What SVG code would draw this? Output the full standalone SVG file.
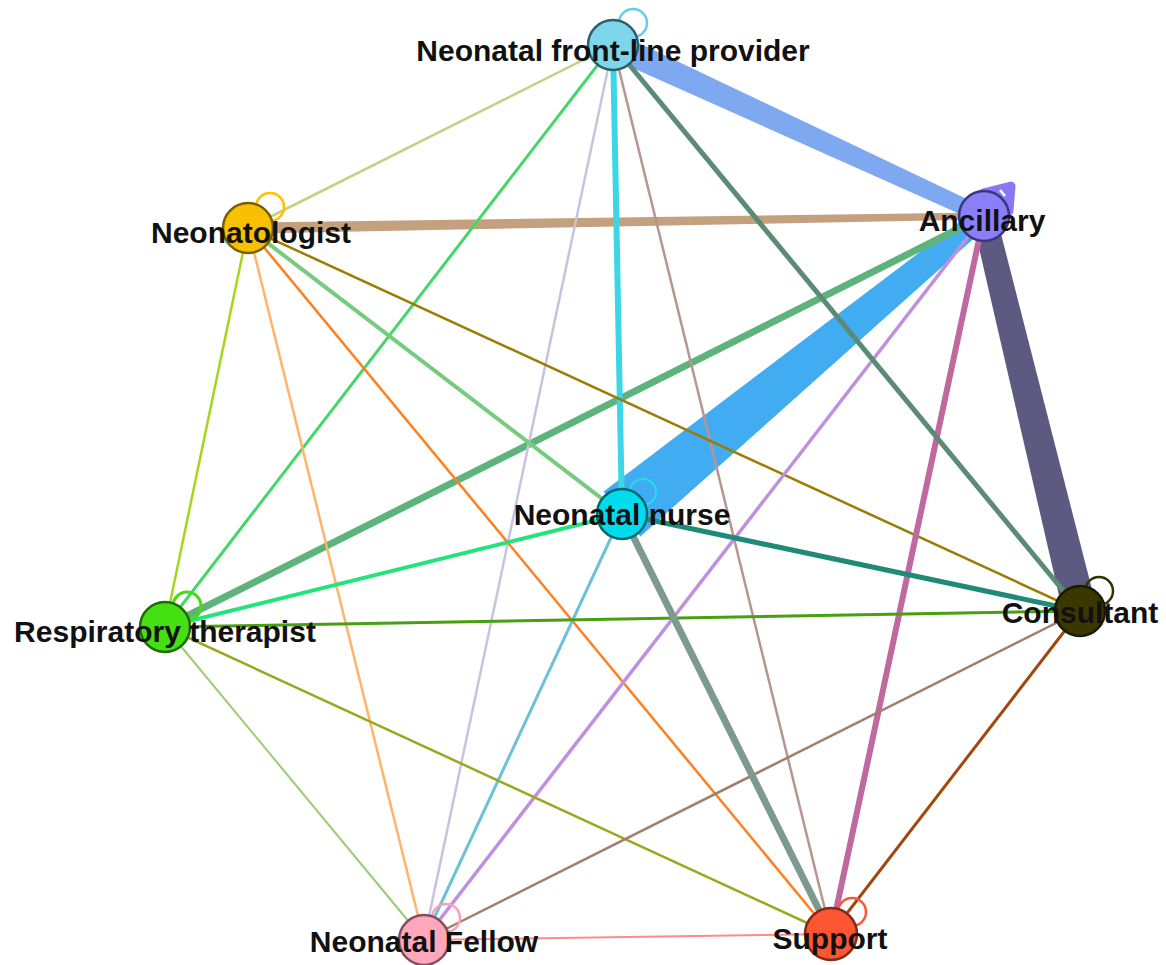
<svg xmlns="http://www.w3.org/2000/svg" width="1166" height="965" viewBox="0 0 1166 965">
<style>
.lbl{font-family:"Liberation Sans",Arial,sans-serif;font-weight:bold;font-size:30px;fill:#111;text-anchor:middle}
.e{fill:none;stroke-linecap:butt}
.loop{fill:none}
.node circle{stroke-width:2.5}
</style>
<rect width="1166" height="965" fill="#ffffff"/>
<g id="connectors">
<polygon points="248,222.5 984,212.5 984,219.5 248,233.5" fill="#c4a07e"/>
<polygon points="618.4,33.2 987.35,208.74 980.65,223.26 607.6,56.8" fill="#7ea8f0"/>
<polygon points="603.6,491.6 977.6,208.3 990.4,223.7 640.4,536.4" fill="#42acf2"/>
<polygon points="995.7,213.2 1096.5,607 1063.5,615 972.3,218.8" fill="#5c5a80"/>
<line class="e" x1="984" y1="216" x2="165" y2="627" stroke="#5eb37c" stroke-width="7"/>
<line class="e" x1="613" y1="45" x2="248" y2="228" stroke="#c4cf84" stroke-width="2.5"/>
<line class="e" x1="613" y1="45" x2="165" y2="627" stroke="#44d768" stroke-width="3"/>
<line class="e" x1="613" y1="45" x2="424" y2="940" stroke="#c6c3dd" stroke-width="2.5"/>
<line class="e" x1="613" y1="45" x2="622" y2="514" stroke="#3cd6e6" stroke-width="6"/>
<line class="e" x1="613" y1="45" x2="831" y2="934" stroke="#b8958f" stroke-width="2.5"/>
<line class="e" x1="248" y1="228" x2="165" y2="627" stroke="#a6d61c" stroke-width="2.5"/>
<line class="e" x1="248" y1="228" x2="424" y2="940" stroke="#ffb469" stroke-width="2.5"/>
<line class="e" x1="248" y1="228" x2="831" y2="934" stroke="#ff7f1e" stroke-width="2.5"/>
<line class="e" x1="248" y1="228" x2="622" y2="514" stroke="#74cc7c" stroke-width="4"/>
<line class="e" x1="248" y1="228" x2="1080" y2="611" stroke="#9a7c00" stroke-width="2.5"/>
<line class="e" x1="984" y1="216" x2="424" y2="940" stroke="#c08fe0" stroke-width="3.5"/>
<line class="e" x1="984" y1="216" x2="831" y2="934" stroke="#c068a0" stroke-width="6"/>
<line class="e" x1="613" y1="45" x2="1080" y2="611" stroke="#5b8b74" stroke-width="5"/>
<line class="e" x1="622" y1="514" x2="165" y2="627" stroke="#22e47a" stroke-width="4"/>
<line class="e" x1="622" y1="514" x2="1080" y2="611" stroke="#1f8a78" stroke-width="5"/>
<line class="e" x1="622" y1="514" x2="424" y2="940" stroke="#6bc2d8" stroke-width="3"/>
<line class="e" x1="165" y1="627" x2="1080" y2="611" stroke="#48a010" stroke-width="3"/>
<line class="e" x1="165" y1="627" x2="424" y2="940" stroke="#9ccb72" stroke-width="2"/>
<line class="e" x1="165" y1="627" x2="831" y2="934" stroke="#9ea61e" stroke-width="2.5"/>
<line class="e" x1="1080" y1="611" x2="424" y2="940" stroke="#a07f70" stroke-width="2.5"/>
<line class="e" x1="1080" y1="611" x2="831" y2="934" stroke="#a0480e" stroke-width="3"/>
<line class="e" x1="622" y1="514" x2="831" y2="934" stroke="#7c9a90" stroke-width="7"/>
<line class="e" x1="424" y1="940" x2="831" y2="934" stroke="#ff8a8a" stroke-width="2"/>
<circle class="loop" cx="633" cy="23" r="14" stroke="#66ccee" stroke-width="2.5"/>
<path d="M983,193 L1011,186 L1009,211 Z" fill="#8878f8" stroke="#8878f8" stroke-width="9" stroke-linejoin="round"/>
<line x1="1000" y1="190" x2="1005" y2="196" stroke="#ffffff" stroke-width="2.5"/>
<circle class="loop" cx="270" cy="207" r="14" stroke="#ffc000" stroke-width="2.5"/>
<circle class="loop" cx="643" cy="492" r="13" stroke="#22ddee" stroke-width="2"/>
<circle class="loop" cx="187" cy="606" r="14" stroke="#44dd11" stroke-width="3"/>
<circle class="loop" cx="1099" cy="591" r="14" stroke="#333300" stroke-width="2.5"/>
<circle class="loop" cx="446" cy="918" r="14" stroke="#ffa0b8" stroke-width="2.5"/>
<circle class="loop" cx="852" cy="912" r="14" stroke="#ff5533" stroke-width="2.5"/>
</g>
<g id="node-frontline" class="node"><circle cx="613" cy="45" r="25" fill="#7fd6ea" stroke="#2d5f6c"/><text class="lbl" x="613" y="61">Neonatal front-line provider</text></g>
<g id="node-ancillary" class="node"><circle cx="984" cy="216" r="25" fill="#8b7ff8" stroke="#3a3580"/><text class="lbl" x="982" y="231">Ancillary</text></g>
<g id="node-neonatologist" class="node"><circle cx="248" cy="228" r="25" fill="#f8c000" stroke="#7a6000"/><text class="lbl" x="251" y="243">Neonatologist</text></g>
<g id="node-nurse" class="node"><circle cx="622" cy="514" r="25" fill="#00dcee" stroke="#006870"/><text class="lbl" x="622" y="525">Neonatal nurse</text></g>
<g id="node-respiratory" class="node"><circle cx="165" cy="627" r="25" fill="#44e011" stroke="#206a08"/><text class="lbl" x="165" y="642">Respiratory therapist</text></g>
<g id="node-consultant" class="node"><circle cx="1080" cy="611" r="25" fill="#3a3800" stroke="#1a1a00"/><text class="lbl" x="1080" y="623">Consultant</text></g>
<g id="node-fellow" class="node"><circle cx="424" cy="940" r="25" fill="#ffa8bc" stroke="#805060"/><text class="lbl" x="424" y="952">Neonatal Fellow</text></g>
<g id="node-support" class="node"><circle cx="831" cy="934" r="26" fill="#ff5533" stroke="#802a18"/><text class="lbl" x="830" y="949">Support</text></g>
</svg>
